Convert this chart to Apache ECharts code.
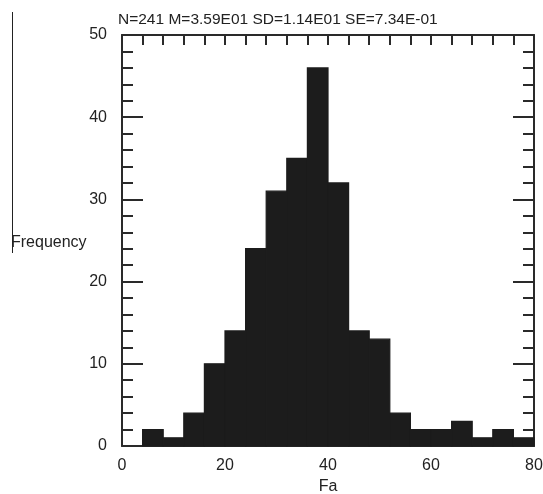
<!DOCTYPE html>
<html>
<head>
<meta charset="utf-8">
<script src="https://cdn.jsdelivr.net/npm/echarts@6/dist/echarts.min.js"></script>
<style>html,body{margin:0;padding:0;background:#fff;overflow:hidden;}#c{width:543px;height:494px;}</style>
</head>
<body>
<div id="c"></div>
<script>
var binStart = [4, 8, 12, 16, 20, 24, 28, 32, 36, 40, 44, 48, 52, 56, 60, 64, 68, 72, 76];
var binEnd   = [8, 12, 16, 20, 24, 28, 32, 36, 40, 44, 48, 52, 56, 60, 64, 68, 72, 76, 80];
var counts   = [2, 1, 4, 10, 14, 24, 31, 35, 46, 32, 14, 13, 4, 2, 2, 3, 1, 2, 1];
var titleText = 'N=241 M=3.59E01 SD=1.14E01 SE=7.34E-01';
var xName = 'Fa';
var yName = 'Frequency';

var data = binStart.map(function (s, i) { return [s, binEnd[i], counts[i]]; });
var FONT = "'Liberation Sans', Arial, Helvetica, sans-serif";
var lineCol = '#2a2a2a';
var txtCol = '#222';

var chart = echarts.init(document.getElementById('c'), null, {renderer: 'canvas'});
chart.setOption({
  animation: false,
  backgroundColor: '#fff',
  grid: {left: 122, right: 9, top: 35, bottom: 48, containLabel: false, outerBoundsMode: 'none'},
  xAxis: [{
    type: 'value', position: 'bottom', min: 0, max: 80, interval: 20,
    axisLine: {show: true, onZero: false, lineStyle: {color: lineCol, width: 2}},
    axisTick: {show: false},
    splitLine: {show: false},
    axisLabel: {fontSize: 16, color: txtCol, fontFamily: FONT, margin: 12},
    name: xName, nameLocation: 'middle', nameGap: 33,
    nameTextStyle: {fontSize: 16, color: txtCol, fontFamily: FONT}
  }, {
    type: 'value', position: 'top', min: 0, max: 80, interval: 4,
    axisLine: {show: true, onZero: false, lineStyle: {color: lineCol, width: 2}},
    axisTick: {show: true, inside: true, length: 10, lineStyle: {color: lineCol, width: 2}},
    splitLine: {show: false},
    axisLabel: {show: false}
  }],
  yAxis: [{
    type: 'value', position: 'left', min: 0, max: 50, interval: 10,
    axisLine: {show: true, onZero: false, lineStyle: {color: lineCol, width: 2}},
    axisTick: {show: true, inside: true, length: 21, lineStyle: {color: lineCol, width: 2}},
    minorTick: {show: true, splitNumber: 5, length: 11, lineStyle: {color: lineCol, width: 2}},
    splitLine: {show: false},
    axisLabel: {fontSize: 16, color: txtCol, fontFamily: FONT, margin: 15}
  }, {
    type: 'value', position: 'right', min: 0, max: 50, interval: 10,
    axisLine: {show: true, onZero: false, lineStyle: {color: lineCol, width: 2}},
    axisTick: {show: true, inside: true, length: 21, lineStyle: {color: lineCol, width: 2}},
    minorTick: {show: true, splitNumber: 5, length: 11, lineStyle: {color: lineCol, width: 2}},
    splitLine: {show: false},
    axisLabel: {show: false}
  }],
  series: [{
    type: 'custom',
    xAxisIndex: 0, yAxisIndex: 0,
    z: 1,
    data: data,
    renderItem: function (params, api) {
      var p0 = api.coord([api.value(0), api.value(2)]);
      var p1 = api.coord([api.value(1), 0]);
      return {
        type: 'rect',
        shape: {x: p0[0], y: p0[1], width: p1[0] - p0[0], height: p1[1] - p0[1]},
        style: {fill: '#1c1c1c', stroke: '#1c1c1c', lineWidth: 1.2}
      };
    }
  }],
  graphic: [{
    type: 'text', left: 118, top: 12, z: 10,
    style: {text: titleText, fill: txtCol, font: '15.5px ' + FONT}
  }, {
    type: 'text', left: 11, top: 235, z: 10,
    style: {text: yName, fill: txtCol, font: '16px ' + FONT}
  }, {
    type: 'line', z: 10,
    shape: {x1: 12.5, y1: 12, x2: 12.5, y2: 253},
    style: {stroke: '#222', lineWidth: 1}
  }]
});
</script>
</body>
</html>
